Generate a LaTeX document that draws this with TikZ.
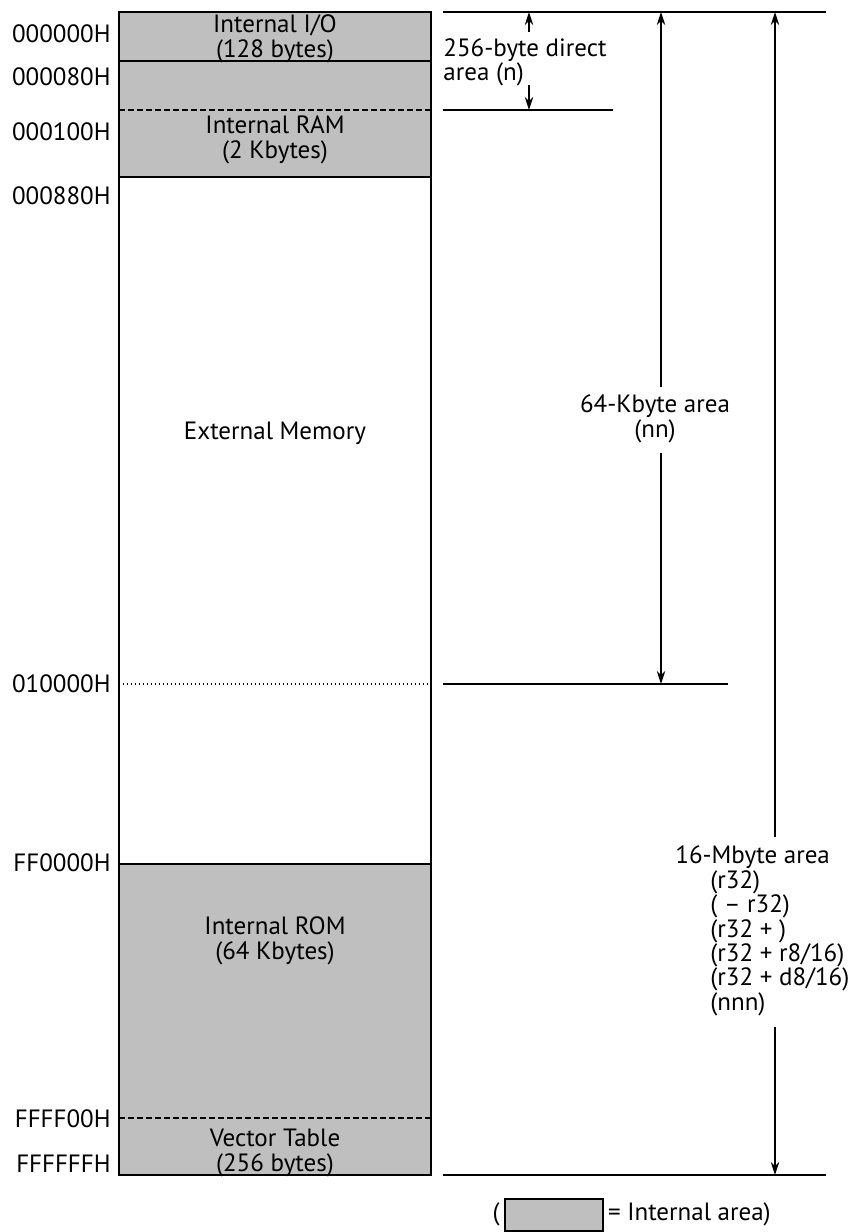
\documentclass[tikz,border=0pt]{standalone}
\usepackage{fontspec}
\setmainfont{PT Sans}
\usetikzlibrary{arrows.meta, positioning, calc}

\begin{document}
\begin{tikzpicture}[x=0.5pt, y=-0.5pt,
    every node/.style={font=\fontsize{12.5}{12.2}\selectfont, inner sep=0pt},
    internal/.style={fill=black!25},
    frame/.style={line width=1pt},
    divider/.style={line width=0.6pt},
    span/.style={line width=1pt},
    dim/.style={line width=0.7pt, -{Stealth[length=6.5pt, width=4.2pt]}},
    addr/.style={anchor=east},
    region/.style={align=center}]
    \useasboundingbox (0,0) rectangle (853,1232);
    % shaded internal areas
    \fill[internal] (119,12) rectangle (431,177);
    \fill[internal] (119,864) rectangle (431,1175);
    % borders inside the map
    \draw[divider] (119,61) -- (431,61);
    \draw[divider, dash pattern=on 3pt off 1.5pt] (119,110) -- (431,110);
    \draw[divider] (119,177) -- (431,177);
    \draw[divider, dash pattern=on 0.6pt off 1.4pt] (119,684) -- (431,684);
    \draw[divider] (119,864) -- (431,864);
    \draw[divider, dash pattern=on 3pt off 1.5pt] (119,1118) -- (431,1118);
    \draw[frame] (119,12) rectangle (431,1175);
    % area names
    \node[region] (io) at (275,39) {Internal I/O\\(128 bytes)};
    \node[region] (ram) at (275,140) {Internal RAM\\(2 Kbytes)};
    \node (ext) at (275,433) {External Memory};
    \node[region] (rom) at (275,941) {Internal ROM\\(64 Kbytes)};
    \node[region] (vec) at (275,1153) {Vector Table\\(256 bytes)};
    % addresses
    \foreach \y/\addr in {34/000000H, 77/000080H, 132/000100H, 196/000880H,
        684/010000H, 863/FF0000H, 1119/FFFF00H, 1164/FFFFFFH}
        \node[addr] (adr-\addr) at (111,\y) {\addr};
    % limits on the right
    \coordinate (lim0) at (443,12);
    \coordinate (lim0e) at (826,12);
    \coordinate (lim1) at (443,110);
    \coordinate (lim1e) at (613,110);
    \coordinate (lim2) at (443,684);
    \coordinate (lim2e) at (728,684);
    \coordinate (lim3) at (443,1175);
    \coordinate (lim3e) at (826,1175);
    \draw[span] (lim0) -- (lim0e);
    \draw[span] (lim1) -- (lim1e);
    \draw[span] (lim2) -- (lim2e);
    \draw[span] (lim3) -- (lim3e);
    % 256-byte direct area
    \node[anchor=north west, align=left] (dir) at (443,38) {256-byte direct\\area (n)};
    \coordinate (dir-up) at (529,32);
    \coordinate (dir-dn) at (529,85);
    \draw[dim] (dir-up) -- (dir-up |- lim0);
    \draw[dim] (dir-dn) -- (dir-dn |- lim1);
    % 64-Kbyte area
    \node[region] (kb) at (655,419) {64-Kbyte area\\(nn)};
    \coordinate (kb-up) at (661,387);
    \coordinate (kb-dn) at (661,453);
    \draw[dim] (kb-up) -- (kb-up |- lim0);
    \draw[dim] (kb-dn) -- (kb-dn |- lim2);
    % 16-Mbyte area
    \node[anchor=west] (mb) at (675,857) {16-Mbyte area};
    \node[anchor=north west, align=left] (modes) at (710,870)
        {(r32)\\( -- r32)\\(r32 + )\\(r32 + r8/16)\\(r32 + d8/16)\\(nnn)};
    \coordinate (mb-up) at (775,837);
    \coordinate (mb-dn) at (775,1027);
    \draw[dim] (mb-up) -- (mb-up |- lim0);
    \draw[dim] (mb-dn) -- (mb-dn |- lim3);
    % key
    \node[draw, internal, line width=0.8pt, minimum width=49pt, minimum height=16pt,
        anchor=north west] (key) at (504,1198) {};
    \node[left=2pt of key] (key-l) {(};
    \node[right=2pt of key] (key-r) {= Internal area)};
\end{tikzpicture}
\end{document}
